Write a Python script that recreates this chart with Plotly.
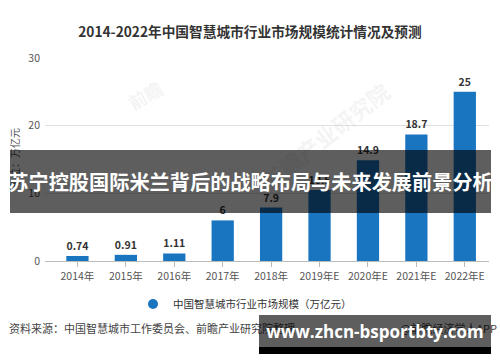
import plotly.graph_objects as go

# ---- data ----
years = ["2014年", "2015年", "2016年", "2017年", "2018年",
         "2019年E", "2020年E", "2021年E", "2022年E"]
market_size = [0.74, 0.91, 1.11, 6, 7.9, 10.5, 14.9, 18.7, 25]
y_ticks = [0, 10, 20, 30]

title_text = "2014-2022年中国智慧城市行业市场规模统计情况及预测"
series_name = "中国智慧城市行业市场规模（万亿元）"
y_title = "单位：万亿元"
source_text = "资料来源：中国智慧城市工作委员会、前瞻产业研究院整理"
credit_text = "@前瞻经济学人APP"
banner_text = "苏宁控股国际米兰背后的战略布局与未来发展前景分析"
url_text = "www.zhcn-bsportbty.com"

W, H = 500, 362
L, R, T, B = 45, 489, 58, 261  # plot area in px

def px2x(px):
    return (px - L) / (R - L)

def px2y(py):
    return (B - py) / (B - T)

FONT = "Noto Sans CJK SC"
BLUE = "#1a75c0"

fig = go.Figure()
fig.add_trace(go.Bar(
    x=list(range(len(years))), y=market_size,
    text=[f"{v:g}" for v in market_size],
    textposition="outside",
    textfont=dict(family=FONT, size=10.5, color="#333", weight="bold"),
    marker=dict(color=BLUE, line=dict(width=0)),
    width=0.46, cliponaxis=False, showlegend=False,
    hoverinfo="skip",
))
# legend entry with round marker
fig.add_trace(go.Scatter(
    x=[None], y=[None], mode="markers", name=series_name,
    marker=dict(symbol="circle", size=10, color=BLUE),
))

fig.update_layout(
    width=W, height=H,
    margin=dict(l=L, r=W - R, t=T, b=H - B, pad=0),
    paper_bgcolor="white", plot_bgcolor="white",
    font=dict(family=FONT, color="#555"),
    title=dict(text=title_text, x=0.5, xref="container", xanchor="center",
               y=1 - 32 / H, yref="container", yanchor="middle",
               font=dict(family=FONT, size=13.7, color="#333", weight="bold")),
    showlegend=True,
    legend=dict(orientation="h", x=px2x(245), xanchor="center",
                y=px2y(304), yanchor="middle",
                font=dict(family=FONT, size=10.5, color="#333"),
                bgcolor="rgba(0,0,0,0)", itemwidth=30),
)
fig.update_xaxes(
    range=[-0.67, 8.5], tickmode="array",
    tickvals=list(range(len(years))), ticktext=years,
    ticks="outside", ticklen=5, tickcolor="#bbb",
    showline=True, linecolor="#bbb", linewidth=1,
    showgrid=False, zeroline=False,
    tickfont=dict(family=FONT, size=10.5, color="#555"),
    fixedrange=True,
)
fig.update_yaxes(
    range=[0, 30], tickmode="array", tickvals=y_ticks,
    showgrid=True, gridcolor="#e0e0e0", gridwidth=1,
    zeroline=False, showline=False,
    tickfont=dict(family=FONT, size=10.5, color="#555"),
    ticklabelstandoff=4,
    fixedrange=True,
)

ann = []
# faint watermarks
ann.append(dict(text="前瞻产业研究院", x=px2x(325), y=px2y(135), xref="paper", yref="paper",
                showarrow=False, textangle=-38,
                font=dict(family=FONT, size=22, color="rgba(205,205,205,0.22)", weight="bold")))
ann.append(dict(text="前瞻", x=px2x(120), y=px2y(72), xref="paper", yref="paper",
                showarrow=False, textangle=-30,
                font=dict(family=FONT, size=18, color="rgba(205,205,205,0.22)", weight="bold")))
# y title
ann.append(dict(text=y_title, x=px2x(14), y=px2y(158), xref="paper", yref="paper",
                showarrow=False, textangle=-90, xanchor="center", yanchor="middle",
                font=dict(family=FONT, size=10, color="#555")))
# source lines
ann.append(dict(text=source_text, x=px2x(7), y=px2y(328), xref="paper", yref="paper",
                showarrow=False, xanchor="left", yanchor="middle",
                font=dict(family=FONT, size=11, color="#444")))
ann.append(dict(text=credit_text, x=px2x(499), y=px2y(328), xref="paper", yref="paper",
                showarrow=False, xanchor="right", yanchor="middle",
                font=dict(family=FONT, size=11, color="#444")))
# big overlay banner
ann.append(dict(text=banner_text, x=px2x(250.5), y=px2y(181.5), xref="paper", yref="paper",
                showarrow=False, xanchor="center", yanchor="middle",
                width=481, height=63, borderpad=0, borderwidth=0,
                bgcolor="rgba(0,0,0,0.63)",
                font=dict(family=FONT, size=20.2, color="white", weight="bold")))
# bottom url banner
ann.append(dict(text="", x=px2x(375), y=px2y(350), xref="paper", yref="paper",
                showarrow=False, xanchor="center", yanchor="middle",
                width=232, height=7, borderpad=0, borderwidth=0,
                bgcolor="black"))
ann.append(dict(text=url_text, x=px2x(375), y=px2y(331), xref="paper", yref="paper",
                showarrow=False, xanchor="center", yanchor="middle",
                width=232, height=32, borderpad=0, borderwidth=0,
                bgcolor="rgba(0,0,0,0.63)",
                font=dict(family="Open Sans", size=17, color="white", weight="bold")))
fig.update_layout(annotations=ann)

fig.write_html("out.html", config={"displayModeBar": False})
